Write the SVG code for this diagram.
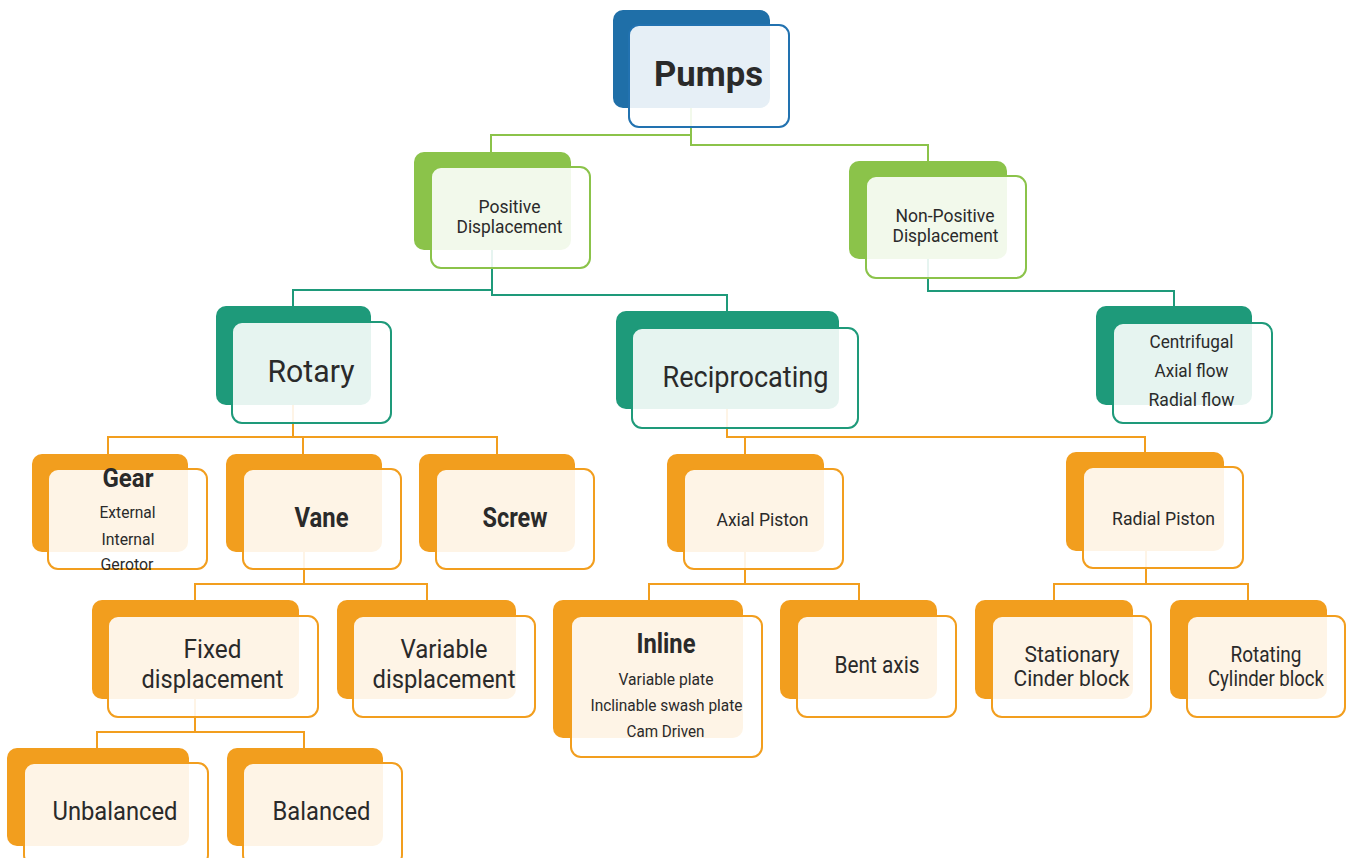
<svg xmlns="http://www.w3.org/2000/svg" width="1347" height="858" viewBox="0 0 1347 858">
<style>
  .bg{fill:#ffffff}
  .c-green{fill:none;stroke:#8bc34a;stroke-width:2}
  .c-teal{fill:none;stroke:#1e9a7a;stroke-width:2}
  .c-orange{fill:none;stroke:#f29e1e;stroke-width:2}
  .back-blue{fill:#1f6fa8}
  .back-green{fill:#8bc34a}
  .back-teal{fill:#1e9a7a}
  .back-orange{fill:#f29e1e}
  .front{fill:#ffffff;fill-opacity:0.89;stroke-width:2}
  .f-blue{stroke:#2272b0}
  .f-green{stroke:#8bc34a}
  .f-teal{stroke:#1e9a7a}
  .f-orange{stroke:#f29e1e}
  text{font-family:Roboto,"Liberation Sans",sans-serif;fill:#2a2a2a;text-anchor:middle}
  .b{font-weight:bold}
</style>
<rect class="bg" x="0" y="0" width="1347" height="858"/>
<g id="connectors">
  <path class="c-green" d="M691 108 V135 H491 V152"/>
  <path class="c-green" d="M691 108 V145 H928 V161"/>
  <path class="c-teal" d="M492 250 V290 H293 V306"/>
  <path class="c-teal" d="M492 250 V295 H727 V311"/>
  <path class="c-teal" d="M928 259 V291 H1174 V306"/>
  <path class="c-orange" d="M293 405 V437"/>
  <path class="c-orange" d="M108 454 V437 H497 V454"/>
  <path class="c-orange" d="M303 437 V454"/>
  <path class="c-orange" d="M727 409 V437 H1145 V452"/>
  <path class="c-orange" d="M745 437 V454"/>
  <path class="c-orange" d="M304 552 V584"/>
  <path class="c-orange" d="M195 600 V584 H427 V600"/>
  <path class="c-orange" d="M745 552 V584"/>
  <path class="c-orange" d="M649 600 V584 H859 V600"/>
  <path class="c-orange" d="M1146 551 V584"/>
  <path class="c-orange" d="M1054 600 V584 H1248 V600"/>
  <path class="c-orange" d="M195 699 V732"/>
  <path class="c-orange" d="M97 748 V732 H304 V748"/>
</g>
<g id="pumps">
  <rect class="back-blue" x="613" y="10" width="157" height="98" rx="10"/>
  <rect class="front f-blue" x="629" y="25" width="160" height="102" rx="10"/>
  <text class="b" x="708.5" y="86" font-size="35" textLength="109" lengthAdjust="spacingAndGlyphs">Pumps</text>
</g>
<g id="positive-displacement">
  <rect class="back-green" x="414" y="152" width="157" height="98" rx="10"/>
  <rect class="front f-green" x="431" y="167" width="159" height="101" rx="10"/>
  <text x="509.5" y="213" font-size="18.5" textLength="62" lengthAdjust="spacingAndGlyphs">Positive</text>
  <text x="509.5" y="233" font-size="18.5" textLength="106" lengthAdjust="spacingAndGlyphs">Displacement</text>
</g>
<g id="non-positive-displacement">
  <rect class="back-green" x="849" y="161" width="158" height="98" rx="10"/>
  <rect class="front f-green" x="866" y="176" width="160" height="102" rx="10"/>
  <text x="945" y="222" font-size="18.5" textLength="99" lengthAdjust="spacingAndGlyphs">Non-Positive</text>
  <text x="945.5" y="242" font-size="18.5" textLength="106" lengthAdjust="spacingAndGlyphs">Displacement</text>
</g>
<g id="rotary">
  <rect class="back-teal" x="216" y="306" width="155" height="99" rx="10"/>
  <rect class="front f-teal" x="232" y="322" width="159" height="101" rx="10"/>
  <text x="311" y="382" font-size="32" textLength="87" lengthAdjust="spacingAndGlyphs">Rotary</text>
</g>
<g id="reciprocating">
  <rect class="back-teal" x="616" y="311" width="223" height="98" rx="10"/>
  <rect class="front f-teal" x="632" y="328" width="226" height="100" rx="10"/>
  <text x="745.5" y="387" font-size="30" textLength="166" lengthAdjust="spacingAndGlyphs">Reciprocating</text>
</g>
<g id="non-positive-types">
  <rect class="back-teal" x="1096" y="306" width="156" height="99" rx="10"/>
  <rect class="front f-teal" x="1113" y="323" width="159" height="100" rx="10"/>
  <text x="1191.5" y="348" font-size="18.5" textLength="84" lengthAdjust="spacingAndGlyphs">Centrifugal</text>
  <text x="1191.5" y="377" font-size="18.5" textLength="74" lengthAdjust="spacingAndGlyphs">Axial flow</text>
  <text x="1191.5" y="406" font-size="18.5" textLength="86" lengthAdjust="spacingAndGlyphs">Radial flow</text>
</g>
<g id="gear">
  <rect class="back-orange" x="32" y="454" width="156" height="98" rx="10"/>
  <rect class="front f-orange" x="48" y="469" width="159" height="100" rx="10"/>
  <text class="b" x="128" y="487" font-size="25" textLength="51" lengthAdjust="spacingAndGlyphs">Gear</text>
  <text x="127.5" y="518" font-size="16.5" textLength="56" lengthAdjust="spacingAndGlyphs">External</text>
  <text x="128" y="545" font-size="16.5" textLength="53" lengthAdjust="spacingAndGlyphs">Internal</text>
  <text x="127" y="570" font-size="16.5" textLength="53" lengthAdjust="spacingAndGlyphs">Gerotor</text>
</g>
<g id="vane">
  <rect class="back-orange" x="226" y="454" width="156" height="98" rx="10"/>
  <rect class="front f-orange" x="243" y="469" width="158" height="100" rx="10"/>
  <text class="b" x="321.5" y="527" font-size="27" textLength="54" lengthAdjust="spacingAndGlyphs">Vane</text>
</g>
<g id="screw">
  <rect class="back-orange" x="419" y="454" width="156" height="98" rx="10"/>
  <rect class="front f-orange" x="436" y="469" width="158" height="100" rx="10"/>
  <text class="b" x="515" y="527" font-size="27" textLength="65" lengthAdjust="spacingAndGlyphs">Screw</text>
</g>
<g id="axial-piston">
  <rect class="back-orange" x="667" y="454" width="157" height="98" rx="10"/>
  <rect class="front f-orange" x="684" y="469" width="159" height="100" rx="10"/>
  <text x="762.5" y="526" font-size="18" textLength="92" lengthAdjust="spacingAndGlyphs">Axial Piston</text>
</g>
<g id="radial-piston">
  <rect class="back-orange" x="1066" y="452" width="158" height="99" rx="10"/>
  <rect class="front f-orange" x="1083" y="467" width="160" height="101" rx="10"/>
  <text x="1163.5" y="525" font-size="18" textLength="103" lengthAdjust="spacingAndGlyphs">Radial Piston</text>
</g>
<g id="fixed-displacement">
  <rect class="back-orange" x="92" y="600" width="207" height="99" rx="10"/>
  <rect class="front f-orange" x="108" y="616" width="210" height="101" rx="10"/>
  <text x="212.5" y="658" font-size="25" textLength="58" lengthAdjust="spacingAndGlyphs">Fixed</text>
  <text x="212.5" y="688" font-size="25" textLength="142" lengthAdjust="spacingAndGlyphs">displacement</text>
</g>
<g id="variable-displacement">
  <rect class="back-orange" x="337" y="600" width="179" height="99" rx="10"/>
  <rect class="front f-orange" x="353" y="616" width="182" height="101" rx="10"/>
  <text x="444" y="658" font-size="25" textLength="87" lengthAdjust="spacingAndGlyphs">Variable</text>
  <text x="444" y="688" font-size="25" textLength="143" lengthAdjust="spacingAndGlyphs">displacement</text>
</g>
<g id="inline">
  <rect class="back-orange" x="553" y="600" width="190" height="138" rx="10"/>
  <rect class="front f-orange" x="571" y="616" width="191" height="141" rx="10"/>
  <text class="b" x="666" y="653" font-size="27" textLength="59" lengthAdjust="spacingAndGlyphs">Inline</text>
  <text x="666" y="685" font-size="16.5" textLength="95" lengthAdjust="spacingAndGlyphs">Variable plate</text>
  <text x="666.5" y="711" font-size="16.5" textLength="152" lengthAdjust="spacingAndGlyphs">Inclinable swash plate</text>
  <text x="665.5" y="737" font-size="16.5" textLength="78" lengthAdjust="spacingAndGlyphs">Cam Driven</text>
</g>
<g id="bent-axis">
  <rect class="back-orange" x="780" y="600" width="157" height="99" rx="10"/>
  <rect class="front f-orange" x="797" y="616" width="159" height="101" rx="10"/>
  <text x="877" y="673" font-size="24" textLength="85" lengthAdjust="spacingAndGlyphs">Bent axis</text>
</g>
<g id="stationary-cinder-block">
  <rect class="back-orange" x="975" y="600" width="158" height="99" rx="10"/>
  <rect class="front f-orange" x="992" y="616" width="159" height="101" rx="10"/>
  <text x="1072" y="662" font-size="21.5" textLength="95" lengthAdjust="spacingAndGlyphs">Stationary</text>
  <text x="1071.5" y="686" font-size="21.5" textLength="116" lengthAdjust="spacingAndGlyphs">Cinder block</text>
</g>
<g id="rotating-cylinder-block">
  <rect class="back-orange" x="1170" y="600" width="157" height="99" rx="10"/>
  <rect class="front f-orange" x="1187" y="616" width="158" height="101" rx="10"/>
  <text x="1266" y="662" font-size="21.5" textLength="71" lengthAdjust="spacingAndGlyphs">Rotating</text>
  <text x="1266" y="686" font-size="21.5" textLength="116" lengthAdjust="spacingAndGlyphs">Cylinder block</text>
</g>
<g id="unbalanced">
  <rect class="back-orange" x="7" y="748" width="182" height="98" rx="10"/>
  <rect class="front f-orange" x="24" y="763" width="184" height="102" rx="10"/>
  <text x="115" y="820" font-size="25" textLength="125" lengthAdjust="spacingAndGlyphs">Unbalanced</text>
</g>
<g id="balanced">
  <rect class="back-orange" x="227" y="748" width="156" height="98" rx="10"/>
  <rect class="front f-orange" x="243" y="763" width="159" height="102" rx="10"/>
  <text x="321.5" y="820" font-size="25" textLength="98" lengthAdjust="spacingAndGlyphs">Balanced</text>
</g>
</svg>
